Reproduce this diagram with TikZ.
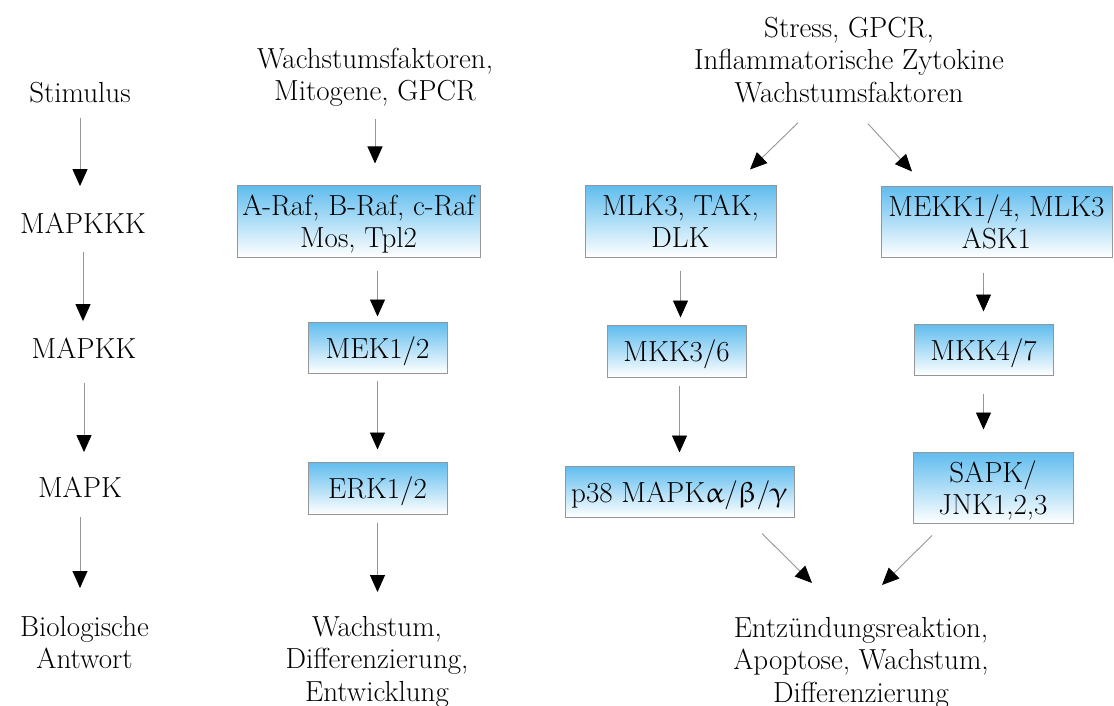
\documentclass[tikz,border=0pt]{standalone}
\usepackage{upgreek}
\usepackage{tikz}
\usetikzlibrary{arrows.meta}
\usepackage{xcolor}
\definecolor{kinaseblue}{RGB}{95,188,238}
\definecolor{linegray}{RGB}{150,150,150}

\begin{document}
\begin{tikzpicture}[x=1pt, y=-1pt,
    font=\fontsize{29}{32.5}\selectfont,
    lbl/.style={inner sep=0pt, align=center},
    kinase/.style={draw=linegray, line width=1pt, top color=kinaseblue,
      bottom color=white, inner sep=0pt, align=center, text depth=0pt},
    sig/.style={draw=linegray, line width=0.9pt,
      -{Triangle[length=17pt,width=15pt,color=black]}}]
  \useasboundingbox (0,0) rectangle (1114,706);
  % Level labels
  \node[lbl, anchor=base] (stim) at (80,103) {Stimulus};
  \node[lbl, anchor=base] (mkkk) at (83,233) {MAPKKK};
  \node[lbl, anchor=base] (mkk) at (84,358) {MAPKK};
  \node[lbl, anchor=base] (mk) at (80,497) {MAPK};
  \node[lbl, anchor=north] (resp) at (84.5,615.9) {Biologische\\Antwort};
  \draw[sig, shorten <=14pt, shorten >=26.2pt]
    (stim.south) -- (stim.south |- mkkk.north);
  \draw[sig, shorten <=19pt, shorten >=16.2pt]
    (mkkk.south) -- (mkkk.south |- mkk.north);
  \draw[sig, shorten <=25pt, shorten >=24.2pt]
    (mkk.south) -- (mkk.south |- mk.north);
  \draw[sig, shorten <=20pt, shorten >=27.9pt]
    (mk.south) -- (mk.south |- resp.north);
  % ERK pathway
  \node[lbl, anchor=north] (src2) at (375,47.9)
    {Wachstumsfaktoren,\\Mitogene, GPCR};
  \node[kinase, minimum width=243pt, minimum height=72pt]
    (raf) at (358.5,221) {A-Raf, B-Raf, c-Raf\\Mos, Tpl2};
  \node[kinase, minimum width=139pt, minimum height=51pt]
    (mek) at (377.5,347.5) {MEK1/2};
  \node[kinase, minimum width=139pt, minimum height=52pt]
    (erk) at (377.5,488) {ERK1/2};
  \node[lbl, anchor=north] (out2) at (377,615.9)
    {Wachstum,\\Differenzierung,\\Entwicklung};
  \draw[sig, shorten <=11.9pt, shorten >=21pt]
    (src2.south) -- (src2.south |- raf.north);
  \draw[sig, shorten <=13pt, shorten >=5pt]
    (mek.north |- raf.south) -- (mek.north);
  \draw[sig, shorten <=7pt, shorten >=12pt] (mek.south) -- (erk.north);
  \draw[sig, shorten <=8pt, shorten >=23.9pt]
    (erk.south) -- (erk.south |- out2.north);
  % p38 and JNK pathways
  \node[lbl, anchor=north] (src3) at (849,16.6)
    {Stress, GPCR,\\Inflammatorische Zytokine\\Wachstumsfaktoren};
  \node[kinase, minimum width=191pt, minimum height=72pt]
    (mlk) at (680.5,221) {MLK3, TAK,\\DLK};
  \node[kinase, minimum width=231pt, minimum height=71pt]
    (mekk) at (996.5,221.5) {MEKK1/4, MLK3\\ASK1};
  \node[kinase, minimum width=139pt, minimum height=52pt]
    (mkk36) at (676.5,351) {MKK3/6};
  \node[kinase, minimum width=139pt, minimum height=51pt]
    (mkk47) at (983.5,349.5) {MKK4/7};
  \node[kinase, minimum width=229pt, minimum height=51pt]
    (p38) at (679.5,491.5) {p38 MAPK$\upalpha$/$\upbeta$/$\upgamma$};
  \node[kinase, minimum width=160pt, minimum height=71pt]
    (sapk) at (993,487.5) {SAPK/\\JNK1,2,3};
  \node[lbl, anchor=north] (out3) at (861,616.9)
    {Entzündungsreaktion,\\Apoptose, Wachstum,\\Differenzierung};
  \draw[sig] ([xshift=-51pt,yshift=-20pt]src3.south)
    -- ([xshift=69.5pt,yshift=15pt]mlk.north);
  \draw[sig] ([xshift=19pt,yshift=-21pt]src3.south)
    -- ([xshift=-84.5pt,yshift=14pt]mekk.north);
  \draw[sig, shorten <=13pt, shorten >=7pt]
    (mlk.south) -- (mlk.south |- mkk36.north);
  \draw[sig, shorten <=8pt, shorten >=13pt]
    (p38.north |- mkk36.south) -- (p38.north);
  \draw[sig, shorten <=15pt, shorten >=12pt]
    (mkk47.north |- mekk.south) -- (mkk47.north);
  \draw[sig, shorten <=18pt, shorten >=22pt]
    (mkk47.south) -- (mkk47.south |- sapk.north);
  \draw[sig] ([xshift=82.5pt,yshift=-16pt]p38.south)
    -- ([xshift=-49pt,yshift=33.9pt]out3.north);
  \draw[sig] ([xshift=-61pt,yshift=-12pt]sapk.south)
    -- ([xshift=21pt,yshift=31.9pt]out3.north);
\end{tikzpicture}
\end{document}
